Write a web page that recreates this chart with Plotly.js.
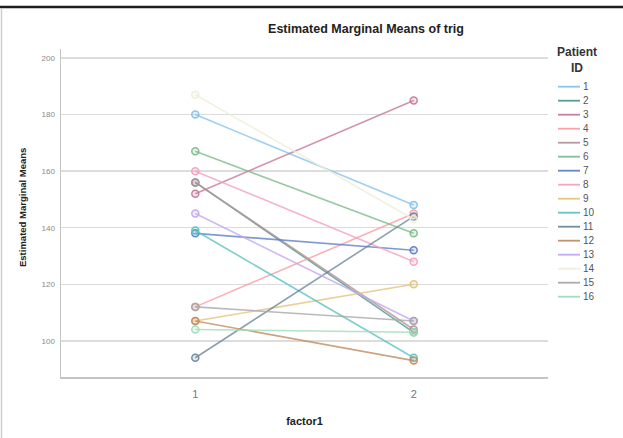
<!DOCTYPE html>
<html>
<head>
<meta charset="utf-8">
<script src="https://cdn.plot.ly/plotly-3.0.1.min.js"></script>
<style>
  html, body { margin: 0; padding: 0; background: #fff; }
  #chart { width: 623px; height: 438px; }
</style>
</head>
<body>
<div id="chart"></div>
<script>
// Estimated marginal means of trig, one profile line per patient
const patientIds = ['1','2','3','4','5','6','7','8','9','10','11','12','13','14','15','16'];
const factorLevels = [1, 2];
const level1Means = [180, 156, 152, 112, 156, 167, 138, 160, 107, 139, 94, 107, 145, 187, 112, 104];
const level2Means = [148, 103, 185, 145, 104, 138, 132, 128, 120, 94, 144, 93, 107, 143, 107, 103];
const yTicks = [100, 120, 140, 160, 180, 200];

const patientColors = [
  '#86c2ee', '#4f978e', '#c7799a', '#f79ea2', '#b39296', '#7cbc8c', '#5f80c6', '#f5a0bf',
  '#e2c47c', '#5cc2c2', '#6d879c', '#c18c62', '#c2a6f2', '#efeed8', '#a8a8a8', '#9edcb8'
];

function rgba(hex, a) {
  const n = parseInt(hex.slice(1), 16);
  return 'rgba(' + ((n >> 16) & 255) + ',' + ((n >> 8) & 255) + ',' + (n & 255) + ',' + a + ')';
}

const W = 623, H = 438;
const M = { l: 61, r: 75, t: 49, b: 61 };
const plotW = W - M.l - M.r, plotH = H - M.t - M.b;
const px = x => (x - M.l) / plotW;           // pixel x -> paper x
const py = y => (H - M.b - y) / plotH;       // pixel y -> paper y

const traces = patientIds.map((id, i) => ({
  type: 'scatter',
  mode: 'lines+markers',
  name: id,
  x: factorLevels,
  y: [level1Means[i], level2Means[i]],
  line: { color: rgba(patientColors[i], 0.8), width: 1.6 },
  marker: {
    symbol: 'circle', size: 7,
    color: rgba(patientColors[i], 0.2),
    line: { color: rgba(patientColors[i], 0.95), width: 1.5 }
  },
  hoverinfo: 'x+y+name'
}));

// Legend drawn as shapes + annotations so the row spacing stays compact
const shapes = [
  { type: 'line', xref: 'paper', yref: 'paper', x0: px(0), x1: px(W), y0: py(7), y1: py(7),
    line: { color: '#1e1e1e', width: 2.5 } },
  { type: 'line', xref: 'paper', yref: 'paper', x0: px(1.5), x1: px(1.5), y0: py(8), y1: py(H),
    line: { color: '#cfcfcf', width: 1.5 } }
];
const annotations = [
  { xref: 'paper', yref: 'paper', x: px(577), y: py(60), xanchor: 'center', yanchor: 'middle',
    text: '<b>Patient<br>ID</b>', showarrow: false, align: 'center',
    font: { size: 12, color: '#333' } },
  { xref: 'paper', yref: 'paper', x: px(22), y: py(208), xanchor: 'center', yanchor: 'middle',
    text: '<b>Estimated Marginal Means</b>', textangle: -90, showarrow: false,
    font: { size: 9.5, color: '#222' } }
];
patientIds.forEach((id, i) => {
  const rowY = 86.7 + 14 * i;
  shapes.push({ type: 'line', xref: 'paper', yref: 'paper', x0: px(558), x1: px(580),
    y0: py(rowY), y1: py(rowY), line: { color: rgba(patientColors[i], 0.95), width: 1.8 } });
  annotations.push({ xref: 'paper', yref: 'paper', x: px(581), y: py(rowY),
    xanchor: 'left', yanchor: 'middle', text: id, showarrow: false,
    font: { size: 10, color: '#555' } });
});

const layout = {
  width: W, height: H,
  margin: M,
  paper_bgcolor: '#fff', plot_bgcolor: '#fff',
  font: { family: 'Liberation Sans, Arial, sans-serif' },
  showlegend: false,
  title: {
    text: '<b>Estimated Marginal Means of trig</b>',
    x: 366 / W, xanchor: 'center', xref: 'container',
    y: 1 - 29 / H, yanchor: 'middle', yref: 'container',
    font: { size: 12.5, color: '#222' }
  },
  xaxis: {
    range: [0.385, 2.615],
    tickvals: factorLevels, ticktext: factorLevels.map(String),
    showgrid: false, zeroline: false,
    showline: true, linecolor: '#c4c4c4', linewidth: 1.5,
    ticks: '', ticklabelstandoff: 6, tickfont: { size: 11, color: '#777' },
    title: { text: '<b>factor1</b>', font: { size: 11, color: '#222' }, standoff: 18 }
  },
  yaxis: {
    range: [87.2, 203.2],
    tickvals: yTicks,
    showgrid: true, gridcolor: '#dcdcdc', gridwidth: 1.5,
    zeroline: false,
    showline: true, linecolor: '#c4c4c4', linewidth: 1.5,
    ticks: '', ticklabelstandoff: 3, tickfont: { size: 8, color: '#8a8a8a' }
  },
  shapes: shapes,
  annotations: annotations
};

Plotly.newPlot('chart', traces, layout, { displayModeBar: false, staticPlot: true });
</script>
</body>
</html>
